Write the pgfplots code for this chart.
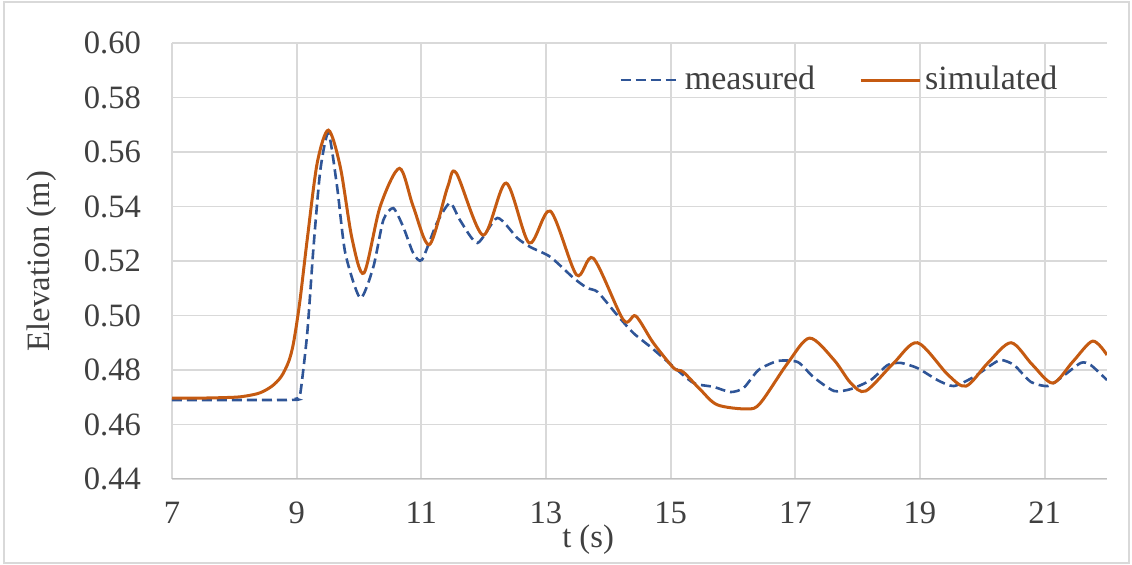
\documentclass[border=0pt]{standalone}
\usepackage{fontspec}
\setmainfont{Liberation Serif}
\usepackage{pgfplots}
\pgfplotsset{compat=1.18}

\definecolor{measblue}{RGB}{47,85,151}
\definecolor{simorange}{RGB}{197,90,17}
\definecolor{gridgray}{RGB}{217,217,217}
\definecolor{axisgray}{RGB}{191,191,191}
\definecolor{textgray}{RGB}{64,64,64}

\begin{document}
\fontsize{16}{19}\selectfont
\begin{tikzpicture}
% frame of the figure
\useasboundingbox (0,0) rectangle (566pt,282.5pt);
\draw[gridgray, line width=1pt] (2pt,1pt) rectangle (564.5pt,281.5pt);
\begin{axis}[
  at={(86pt,43pt)}, anchor=south west,
  scale only axis, width=467.5pt, height=218pt,
  xmin=7, xmax=22, ymin=0.44, ymax=0.60,
  xtick={7,9,...,21},
  ytick={0.44,0.46,...,0.601},
  yticklabel style={/pgf/number format/.cd, fixed, fixed zerofill, precision=2},
  /pgf/number format/assume math mode=true,
  major tick length=0pt,
  grid=major,
  major grid style={gridgray, line width=0.9pt},
  axis line style={draw=none},
  tick label style={font=\fontsize{16.3}{19}\selectfont, text=textgray},
  yticklabel shift=10pt,
  xticklabel shift=6pt,
  xlabel={t (s)},
  ylabel={Elevation (m)},
  label style={font=\fontsize{16.3}{19}\selectfont, text=textgray},
  xlabel style={at={(axis description cs:0.445,-0.140)}, anchor=center},
  ylabel style={at={(axis description cs:-0.139,0.5)}, anchor=center},
  legend columns=2,
  legend style={draw=none, fill=none, font=\fontsize{17}{20}\selectfont, text=textgray,
    at={(axis description cs:0.478,0.915)}, anchor=west, inner xsep=0pt,
    /tikz/every even column/.append style={column sep=20pt}},
  legend image code/.code={\draw[#1] (0pt,0pt) -- (29.5pt,0pt);},
]
\draw[axisgray, line width=1pt] (rel axis cs:0,0) -- (rel axis cs:1,0);

\addplot[measblue, line width=1.3pt, dash pattern=on 5pt off 2.5pt, smooth, tension=0.4]
coordinates {
(7.00,0.4690) (8.90,0.4690) (9.00,0.4695) (9.06,0.4716) (9.17,0.4936)
(9.27,0.5250) (9.38,0.5534) (9.51,0.5670) (9.65,0.5470) (9.78,0.5229)
(10.02,0.5064) (10.23,0.5178) (10.39,0.5350) (10.55,0.5394) (10.71,0.5325)
(10.87,0.5229) (11.01,0.5204) (11.25,0.5340) (11.46,0.5413) (11.62,0.5350)
(11.90,0.5266) (12.22,0.5358) (12.54,0.5284) (12.75,0.5251) (13.07,0.5215)
(13.44,0.5138) (13.66,0.5101) (13.83,0.5086) (14.14,0.5002) (14.40,0.4936)
(14.68,0.4884) (15.05,0.4811) (15.37,0.4752) (15.69,0.4738) (15.96,0.4719)
(16.17,0.4734) (16.41,0.4800) (16.72,0.4833) (17.04,0.4829) (17.29,0.4774)
(17.62,0.4723) (17.89,0.4730) (18.21,0.4763) (18.48,0.4818) (18.69,0.4826)
(18.96,0.4807) (19.28,0.4763) (19.54,0.4741) (19.86,0.4774) (20.14,0.4818)
(20.30,0.4837) (20.51,0.4818) (20.78,0.4756) (21.05,0.4741) (21.26,0.4771)
(21.58,0.4826) (21.74,0.4818) (22.00,0.4763)
};
\addlegendentry{measured}

\addplot[simorange, line width=1.5pt, smooth, tension=0.5]
coordinates {
(7.00,0.4697) (7.50,0.4697) (8.00,0.4700) (8.20,0.4705) (8.41,0.4716)
(8.60,0.4740) (8.75,0.4775) (8.87,0.4830) (8.95,0.4900) (9.05,0.5050)
(9.17,0.5280) (9.33,0.5560) (9.51,0.5680) (9.70,0.5545) (9.89,0.5280)
(10.08,0.5156) (10.34,0.5400) (10.65,0.5540) (10.87,0.5400) (11.13,0.5260)
(11.42,0.5470) (11.56,0.5523) (11.99,0.5295) (12.36,0.5486) (12.73,0.5266)
(13.07,0.5383) (13.49,0.5149) (13.76,0.5210) (14.24,0.4984) (14.44,0.4998)
(14.72,0.4900) (15.05,0.4807) (15.20,0.4793) (15.48,0.4727) (15.75,0.4672)
(16.23,0.4657) (16.44,0.4679) (16.88,0.4826) (17.23,0.4917) (17.62,0.4837)
(17.89,0.4752) (18.13,0.4723) (18.58,0.4826) (18.96,0.4900) (19.45,0.4782)
(19.74,0.4741) (20.09,0.4826) (20.46,0.4900) (20.80,0.4820) (21.13,0.4752)
(21.45,0.4830) (21.77,0.4906) (22.00,0.4855)
};
\addlegendentry{simulated}
\end{axis}
\end{tikzpicture}
\end{document}
